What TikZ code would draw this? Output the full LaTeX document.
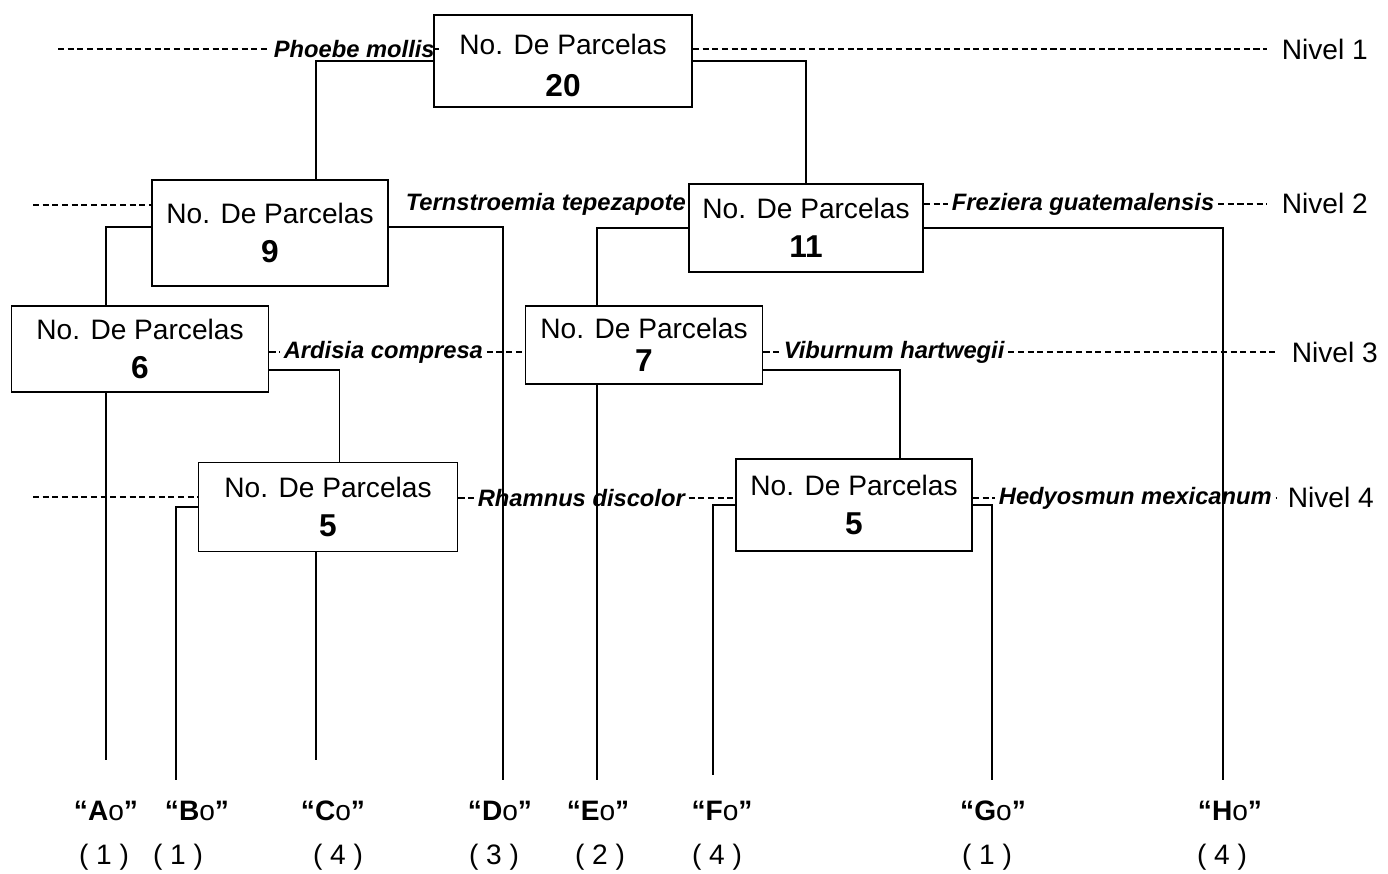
\documentclass[tikz,border=0pt]{standalone}
\usepackage{fontspec}
\setmainfont{Liberation Sans}
\usepackage{tikz}
\usetikzlibrary{positioning}
\tikzset{%
  parcela/.style = {draw, line width=1.1pt, rectangle, align=center,
    font=\fontsize{16}{19}\selectfont}, % plot box
  especie/.style = {anchor=west, inner sep=2pt,
    font=\fontsize{13.5}{16}\selectfont\bfseries\itshape}, % species
  nivel/.style   = {anchor=west, inner sep=2pt, font=\fontsize{16}{19}\selectfont},
  hoja/.style    = {font=\fontsize{16}{19}\selectfont\bfseries}, % group
  conteo/.style  = {font=\fontsize{16}{19}\selectfont},
  rama/.style    = {line width=0.9pt},
  corte/.style   = {line width=1pt, dash pattern=on 3.5pt off 2pt}
}
\newcommand{\num}[1]{{\fontsize{18}{20}\selectfont\bfseries #1}}

\begin{document}
\begin{tikzpicture}[x=0.02cm, y=-0.02cm]
  \useasboundingbox (0,0) rectangle (1388,873);

  % plot boxes
  \draw node at (563,61) [parcela, minimum width=5.16cm, minimum height=1.84cm] (root)
    {\raisebox{-4.5pt}[\height][\depth]{\begin{tabular}{@{}c@{}}No. De Parcelas\\[5pt]\num{20}\end{tabular}}};
  \draw node at (270,233) [parcela, minimum width=4.72cm, minimum height=2.12cm] (p9) {No. De Parcelas\\[3pt]\num{9}};
  \draw node at (806,228) [parcela, minimum width=4.68cm, minimum height=1.76cm] (p11) {No. De Parcelas\\[3pt]\num{11}};
  \draw node at (140,349) [parcela, minimum width=5.14cm, minimum height=1.72cm] (p6) {No. De Parcelas\\[3pt]\num{6}};
  \draw node at (644,345) [parcela, minimum width=4.74cm, minimum height=1.56cm] (p7) {No. De Parcelas\\[0pt]\num{7}};
  \draw node at (328,507) [parcela, minimum width=5.18cm, minimum height=1.78cm] (p5a) {No. De Parcelas\\[3pt]\num{5}};
  \draw node at (854,505) [parcela, minimum width=4.72cm, minimum height=1.84cm] (p5b) {No. De Parcelas\\[3pt]\num{5}};

  % species and levels
  \draw node at (270,49) [especie] (sp1) {Phoebe mollis};
  \draw node at (402,204) [especie] (sp2) {Ternstroemia tepezapote};
  \draw node at (948,204) [especie] (sp3) {Freziera guatemalensis};
  \draw node at (280,352) [especie] (sp4) {Ardisia compresa};
  \draw node at (780,352) [especie] (sp5) {Viburnum hartwegii};
  \draw node at (474,498) [especie] (sp6) {Rhamnus discolor};
  \draw node at (995,498) [especie] (sp7) {Hedyosmun mexicanum};
  \draw node at (1278,49) [nivel] (niv1) {Nivel 1};
  \draw node at (1278,203) [nivel] (niv2) {Nivel 2};
  \draw node at (1288,352) [nivel] (niv3) {Nivel 3};
  \draw node at (1284,497) [nivel] (niv4) {Nivel 4};
  \coordinate (c1) at (58,49);
  \coordinate (c2) at (33,205);
  \coordinate (c4) at (33,497);

  \draw[corte] (c1) -- (sp1.west);
  \draw[corte] (sp1.east) -- (sp1.east -| root.west);
  \draw[corte, shorten >=6pt] (root.east |- sp1) -- (niv1.west);
  \draw[corte] (c2) -- (c2 -| p9.west);
  \draw[corte] (p11.east |- sp3) -- (sp3.west);
  \draw[corte, shorten >=6pt] (sp3.east) -- (niv2.west |- sp3);
  \draw[corte] (p6.east |- sp4) -- (sp4.west);
  \draw[corte] (sp4.east) -- (sp4.east -| p7.west);
  \draw[corte] (p7.east |- sp5) -- (sp5.west);
  \draw[corte, shorten >=6pt] (sp5.east) -- (niv3.west);
  \draw[corte] (c4) -- (c4 -| p5a.west);
  \draw[corte] (p5a.east |- sp6) -- (sp6.west);
  \draw[corte] (sp6.east) -- (sp6.east -| p5b.west);
  \draw[corte] (p5b.east |- sp7) -- (sp7.west);
  \draw[corte, shorten >=4pt] (sp7.east) -- (niv4.west |- sp7);

  % groups
  \draw node at (106,811) [hoja] (hA) {“A{\mdseries o}”};
  \draw node at (197,811) [hoja] (hB) {“B{\mdseries o}”};
  \draw node at (333,811) [hoja] (hC) {“C{\mdseries o}”};
  \draw node at (500,811) [hoja] (hD) {“D{\mdseries o}”};
  \draw node at (598,811) [hoja] (hE) {“E{\mdseries o}”};
  \draw node at (722,811) [hoja] (hF) {“F{\mdseries o}”};
  \draw node at (993,811) [hoja] (hG) {“G{\mdseries o}”};
  \draw node at (1230,811) [hoja] (hH) {“H{\mdseries o}”};
  \draw node at (104,857) [conteo] (nA) {( 1 )};
  \draw node at (178,857) [conteo] (nB) {( 1 )};
  \draw node at (338,857) [conteo] (nC) {( 4 )};
  \draw node at (494,857) [conteo] (nD) {( 3 )};
  \draw node at (600,857) [conteo] (nE) {( 2 )};
  \draw node at (717,857) [conteo] (nF) {( 4 )};
  \draw node at (987,857) [conteo] (nG) {( 1 )};
  \draw node at (1222,857) [conteo] (nH) {( 4 )};

  \coordinate (eA) at (106,760);
  \coordinate (eB) at (176,780);
  \coordinate (eC) at (316,760);
  \coordinate (eD) at (503,780);
  \coordinate (eE) at (597,780);
  \coordinate (eF) at (713,775);
  \coordinate (eG) at (992,780);
  \coordinate (eH) at (1223,780);

  % branches
  \draw[rama] (root.west) -| ([xshift=0.92cm]p9.north);
  \draw[rama] (root.east) -| (p11.north);
  \draw[rama] ([yshift=0.12cm]p9.west) -| (p6.north -| eA);
  \draw[rama] ([yshift=0.12cm]p9.east) -| (eD);
  \draw[rama] (p11.west) -| (p7.north -| eE);
  \draw[rama] (p11.east) -| (eH);
  \draw[rama] (p6.south -| eA) -- (eA);
  \draw[rama] ([yshift=-0.42cm]p6.east) -| ([xshift=0.23cm]p5a.north);
  \draw[rama] (p7.south -| eE) -- (eE);
  \draw[rama] ([yshift=-0.5cm]p7.east) -| ([xshift=0.92cm]p5b.north);
  \draw[rama] (p5a.west) -| (eB);
  \draw[rama] (p5a.south -| eC) -- (eC);
  \draw[rama] (p5b.west) -| (eF);
  \draw[rama] (p5b.east) -| (eG);

\end{tikzpicture}
\end{document}
